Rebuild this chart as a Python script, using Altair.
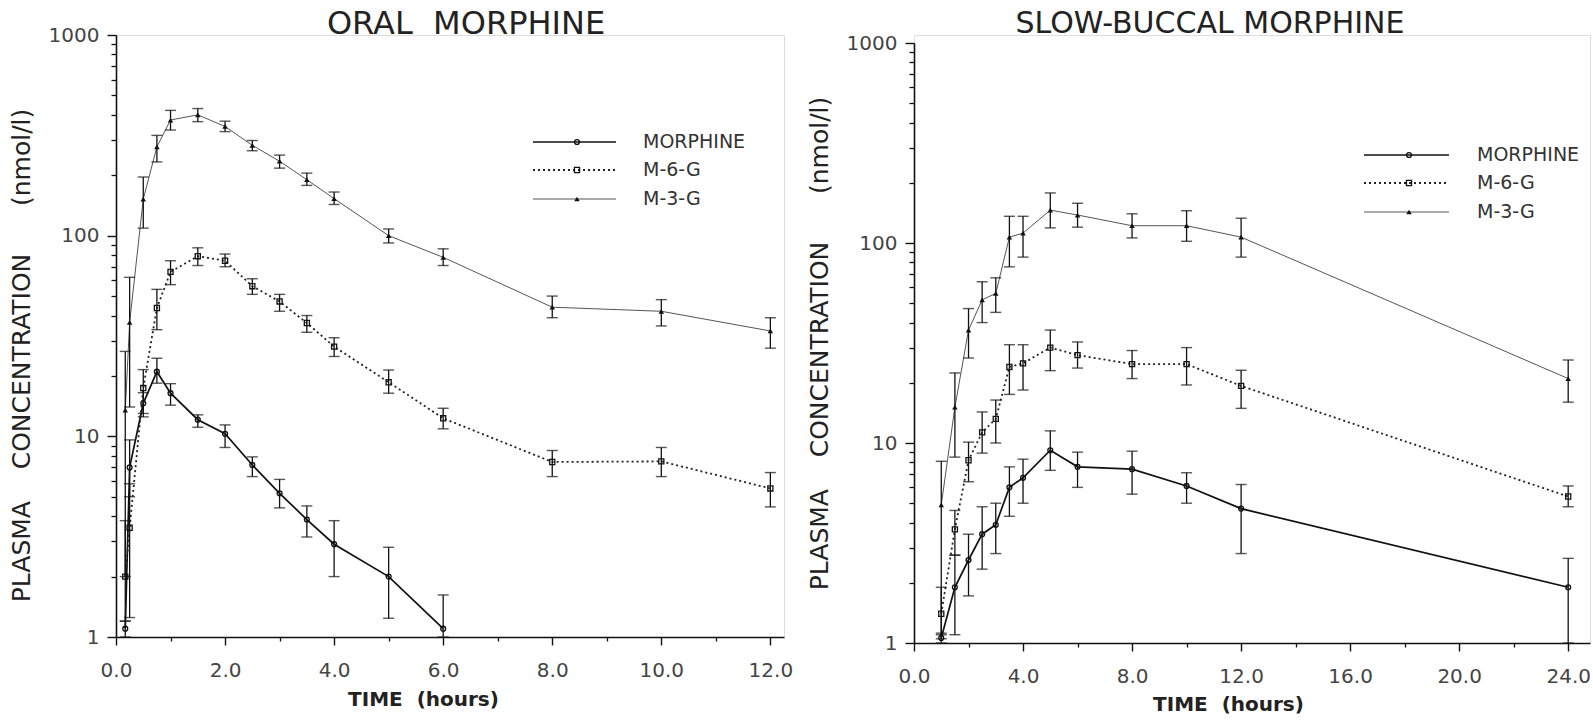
import altair as alt
import pandas as pd

SERIES = ["MORPHINE", "M-6-G", "M-3-G"]

# ---------------- ORAL MORPHINE (time in hours, concentration nmol/l) -------------
oral_morphine_t = [0.17, 0.25, 0.5, 0.75, 1, 1.5, 2, 2.5, 3, 3.5, 4, 5, 6]
oral_morphine = [1.1, 7.0, 14.6, 21.0, 16.4, 12.1, 10.3, 7.2, 5.2, 3.85, 2.9, 2.0, 1.1]
oral_morphine_lo = [1.0, 5.0, 12.5, 18.4, 14.3, 11.1, 8.8, 6.3, 4.4, 3.15, 2.0, 1.24, 1.0]
oral_morphine_hi = [1.2, 9.6, 16.5, 24.5, 18.3, 12.8, 11.4, 7.9, 6.1, 4.5, 3.8, 2.8, 1.62]

oral_t = [0.17, 0.25, 0.5, 0.75, 1, 1.5, 2, 2.5, 3, 3.5, 4, 5, 6, 8, 10, 12]
oral_m6g = [2.0, 3.5, 17.4, 43.6, 66, 79, 75, 56, 47, 36.7, 28, 18.6, 12.3, 7.45, 7.5, 5.5]
oral_m6g_lo = [1.2, 1.25, 13.0, 34, 57, 71, 70, 51, 42, 33, 25, 16.4, 10.9, 6.3, 6.3, 4.45]
oral_m6g_hi = [3.8, 5.8, 21.5, 54, 75, 87, 81, 61, 51, 40, 31, 21.4, 13.8, 8.5, 8.8, 6.6]
oral_m3g = [13.5, 37, 152, 277, 377, 400, 350, 282, 235, 190, 153, 100, 78, 44, 42, 33.5]
oral_m3g_lo = [2.0, 14, 109, 233, 336, 370, 330, 265, 217, 178, 143, 92, 71, 39, 35.5, 27.5]
oral_m3g_hi = [26.5, 62, 196, 316, 421, 430, 372, 298, 252, 205, 165, 108, 86, 50, 48, 39]

# ---------------- SLOW-BUCCAL MORPHINE ----------------
buccal_t = [1, 1.5, 2, 2.5, 3, 3.5, 4, 5, 6, 8, 10, 12, 24]
buccal_morphine = [1.06, 1.9, 2.6, 3.5, 3.9, 6.0, 6.7, 9.2, 7.6, 7.4, 6.1, 4.7, 1.9]
buccal_morphine_lo = [1.0, 1.1, 1.72, 2.34, 2.8, 4.3, 5.0, 7.3, 6.0, 5.55, 5.0, 2.8, 1.0]
buccal_morphine_hi = [1.12, 2.75, 3.5, 4.8, 5.0, 7.6, 8.3, 11.5, 9.0, 9.1, 7.1, 6.2, 2.65]
buccal_m6g = [1.4, 3.7, 8.2, 11.3, 13.2, 24, 25, 30, 27.5, 24.8, 24.8, 19.3, 5.4]
buccal_m6g_lo = [1.05, 2.75, 6.4, 8.9, 10, 17.5, 18.4, 23, 23.7, 21, 19.5, 14.9, 4.8]
buccal_m6g_hi = [1.9, 4.6, 10.1, 14.3, 16.4, 31, 31, 36.7, 32, 29, 30, 23.1, 6.1]
buccal_m3g = [4.9, 15.1, 36.7, 52, 56, 107, 112, 146, 138, 122, 122, 107, 21]
buccal_m3g_lo = [1.1, 8.5, 26.6, 40, 45, 76, 85, 119, 120, 106, 102, 85, 16]
buccal_m3g_hi = [8.1, 22.4, 47, 64, 67, 136, 136, 178, 158, 140, 145, 133, 26]

STYLE = {
    "MORPHINE": dict(dash=None, width=1.7, color="#111111", shape="circle", filled=False, size=24),
    "M-6-G": dict(dash=[2, 3], width=1.8, color="#222222", shape="square", filled=False, size=26),
    "M-3-G": dict(dash=None, width=1.0, color="#555555", shape="triangle-up", filled=True, size=30),
}

FONT = "DejaVu Sans"
Y_MAJOR = [1, 10, 100, 1000]
Y_MINOR = [2, 3, 4, 5, 6, 7, 8, 9, 20, 30, 40, 50, 60, 70, 80, 90,
           200, 300, 400, 500, 600, 700, 800, 900]
Y_TITLE = "PLASMA\u00a0\u00a0\u00a0\u00a0CONCENTRATION\u00a0\u00a0\u00a0\u00a0\u00a0\u00a0(nmol/l)"
X_TITLE = "TIME\u00a0\u00a0(hours)"


def line_mark(s):
    st = STYLE[s]
    kw = dict(interpolate="linear", strokeWidth=st["width"], color=st["color"])
    if st["dash"]:
        kw["strokeDash"] = st["dash"]
    return kw


def panel(title, title_size, title_dx, title_offset, series, xmax, x_major, x_minor,
          w, h, y_range, y_title_y, x_title_x, x_title_y, legend_rows, legend_x):
    x_axis = alt.Axis(
        orient="bottom", values=x_major, format=".1f",
        tickSize=8, tickWidth=1.4, tickColor="#111", domainColor="#111", domainWidth=1.6,
        labelFont=FONT, labelFontSize=20, labelColor="#444", labelPadding=15,
        labelFlush=False, labelOverlap=False, grid=False,
        title=X_TITLE, titleFont=FONT, titleFontSize=20, titleFontWeight="bold",
        titleColor="#222", titleX=x_title_x, titleY=x_title_y,
    )
    y_axis = alt.Axis(
        orient="left", values=Y_MAJOR, format="d",
        tickSize=9, tickWidth=1.4, tickColor="#111", domainColor="#111", domainWidth=1.6,
        labelFont=FONT, labelFontSize=20, labelColor="#444", labelPadding=8,
        labelOverlap=False, grid=False,
        title=Y_TITLE, titleFont=FONT, titleFontSize=25, titleFontWeight="normal",
        titleColor="#222", titlePadding=14, titleY=y_title_y,
    )
    x_minor_axis = alt.Axis(orient="bottom", values=x_minor, labels=False, domain=False,
                            tickSize=4, tickWidth=1.3, tickColor="#111", grid=False, title=None)
    y_minor_axis = alt.Axis(orient="left", values=Y_MINOR, labels=False, domain=False,
                            tickSize=5, tickWidth=1.3, tickColor="#111", grid=False, title=None)

    xs = alt.Scale(domain=[0, xmax], nice=False, zero=False)
    ys = alt.Scale(type="log", domain=[1, 1000], nice=False, range=y_range)

    layers = []
    first = True
    for name, (t, v, lo, hi) in series.items():
        st = STYLE[name]
        df = pd.DataFrame({"t": t, "v": v, "lo": lo, "hi": hi, "series": name})
        base = alt.Chart(df)
        if first:
            # invisible layer carrying the minor tick axes
            layers.append(base.mark_point(opacity=0).encode(
                x=alt.X("t:Q", scale=xs, axis=x_minor_axis),
                y=alt.Y("v:Q", scale=ys, axis=y_minor_axis)))
        X = alt.X("t:Q", scale=xs, axis=x_axis if first else None)
        Y = alt.Y("v:Q", scale=ys, axis=y_axis if first else None)
        first = False
        layers.append(base.mark_line(**line_mark(name)).encode(x=X, y=Y))
        layers.append(base.mark_rule(color="#111", strokeWidth=1.3).encode(
            x=alt.X("t:Q", scale=xs, axis=None),
            y=alt.Y("lo:Q", scale=ys, axis=None), y2="hi:Q"))
        for col in ("lo", "hi"):
            layers.append(base.mark_tick(orient="horizontal", size=11, thickness=1.4, color="#111").encode(
                x=alt.X("t:Q", scale=xs, axis=None),
                y=alt.Y(f"{col}:Q", scale=ys, axis=None)))
        layers.append(base.mark_point(shape=st["shape"], filled=st["filled"], size=st["size"],
                                      color="#111", strokeWidth=1.3, opacity=1).encode(
            x=alt.X("t:Q", scale=xs, axis=None),
            y=alt.Y("v:Q", scale=ys, axis=None)))

    # legend (drawn in pixel space inside the plot area)
    lx0, lx1, lmark, ltext = legend_x
    for name, ry in zip(SERIES, legend_rows):
        st = STYLE[name]
        ldf = pd.DataFrame({"label": [name]})
        lb = alt.Chart(ldf)
        rule_kw = dict(color=st["color"], strokeWidth=st["width"])
        if st["dash"]:
            rule_kw["strokeDash"] = st["dash"]
        layers.append(lb.mark_rule(**rule_kw).encode(
            x=alt.value(lx0), x2=alt.value(lx1), y=alt.value(ry)))
        layers.append(lb.mark_point(shape=st["shape"], filled=st["filled"], size=st["size"],
                                    color="#111", strokeWidth=1.3, opacity=1).encode(
            x=alt.value(lmark), y=alt.value(ry)))
        layers.append(lb.mark_text(align="left", baseline="middle", font=FONT, fontSize=19,
                                   color="#333").encode(
            x=alt.value(ltext), y=alt.value(ry), text="label:N"))

    return alt.layer(*layers).resolve_axis(x="independent", y="independent").properties(
        width=w, height=h,
        title=alt.TitleParams(text=title, fontSize=title_size, font=FONT, fontWeight="normal",
                              color="#222", anchor="middle", dx=title_dx, offset=title_offset),
    )


oral = panel(
    "ORAL\u00a0\u00a0MORPHINE", 32, 16, -16,
    {
        "MORPHINE": (oral_morphine_t, oral_morphine, oral_morphine_lo, oral_morphine_hi),
        "M-6-G": (oral_t, oral_m6g, oral_m6g_lo, oral_m6g_hi),
        "M-3-G": (oral_t, oral_m3g, oral_m3g_lo, oral_m3g_hi),
    },
    12.25, [0, 2, 4, 6, 8, 10, 12], [1, 3, 5, 7, 9, 11], 668, 602, [602, 0], 320, 307, 52,
    [107, 135, 164], (417, 500, 461, 527),
)

buccal = panel(
    "SLOW-BUCCAL MORPHINE", 30, -42, -6,
    {
        "MORPHINE": (buccal_t, buccal_morphine, buccal_morphine_lo, buccal_morphine_hi),
        "M-6-G": (buccal_t, buccal_m6g, buccal_m6g_lo, buccal_m6g_hi),
        "M-3-G": (buccal_t, buccal_m3g, buccal_m3g_lo, buccal_m3g_hi),
    },
    24.8, [0, 4, 8, 12, 16, 20, 24], [2, 6, 10, 14, 18, 22], 676, 608, [608, 8], 308, 314, 51,
    [120, 148, 177], (450, 535, 495, 563),
)

chart = alt.hconcat(oral, buccal, spacing=12).properties(
    padding={"left": 8, "top": 7, "right": 0, "bottom": 0}
).configure_view(strokeWidth=0).configure(background="white")

chart.save("out.html", embed_options={"renderer": "svg", "actions": False})
